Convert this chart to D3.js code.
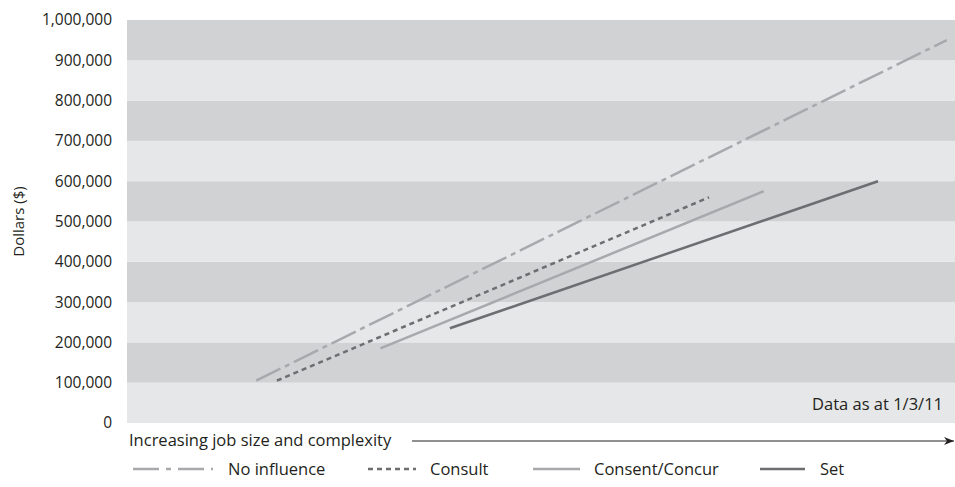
<!DOCTYPE html>
<html>
<head>
<meta charset="utf-8">
<script src="https://cdn.jsdelivr.net/npm/d3@7"></script>
<style>
  html, body { margin: 0; padding: 0; background: #fff; }
  svg { display: block; font-family: "Open Sans", "Noto Sans", sans-serif; }
</style>
</head>
<body>
<svg id="chart" width="955" height="487"></svg>
<script>
// Pay lines by decision-making influence; x is relative job size (0-100)
const seriesNames = ["No influence", "Consult", "Consent/Concur", "Set"];
const noInfluence = [[15.6, 105000], [99.0, 950000]];
const consult = [[18.1, 105000], [70.3, 560000]];
const consentConcur = [[30.6, 185000], [76.9, 575000]];
const setLine = [[39.0, 235000], [90.7, 600000]];
const yTicks = [0, 100000, 200000, 300000, 400000, 500000, 600000, 700000, 800000, 900000, 1000000];

const series = [
  { name: seriesNames[0], values: noInfluence, color: "#a7a9ac", dash: "27,5,5,5" },
  { name: seriesNames[1], values: consult, color: "#6d6e71", dash: "5,4" },
  { name: seriesNames[2], values: consentConcur, color: "#a7a9ac", dash: null },
  { name: seriesNames[3], values: setLine, color: "#6d6e71", dash: null }
];

const textColor = "#231f20";
const svg = d3.select("#chart");
const margin = { left: 127, right: 0, top: 20, bottom: 64 };
const W = 955, H = 487;

const x = d3.scaleLinear().domain([0, 100]).range([margin.left, W - margin.right]);
const y = d3.scaleLinear().domain([0, 1000000]).range([H - margin.bottom, margin.top]);

// alternating horizontal bands
const bands = d3.pairs(yTicks);
svg.append("g").selectAll("rect").data(bands).join("rect")
  .attr("x", x(0))
  .attr("width", x(100) - x(0))
  .attr("y", d => y(d[1]))
  .attr("height", d => y(d[0]) - y(d[1]))
  .attr("fill", (d, i) => i % 2 === 0 ? "#e6e7e8" : "#d1d2d4");

// y axis (labels only)
const yAxis = d3.axisLeft(y).tickValues(yTicks).tickSize(0).tickPadding(15)
  .tickFormat(d3.format(","));
const gy = svg.append("g").attr("transform", `translate(${x(0)},0)`).call(yAxis);
gy.select(".domain").remove();
gy.selectAll("text").attr("font-size", 15.5).attr("fill", textColor).attr("font-family", "Open Sans, sans-serif");

svg.append("text")
  .attr("transform", `translate(24,${(y(0) + y(1000000)) / 2}) rotate(-90)`)
  .attr("text-anchor", "middle")
  .attr("font-size", 15).attr("fill", textColor)
  .text("Dollars ($)");

// lines
const line = d3.line().x(d => x(d[0])).y(d => y(d[1]));
svg.append("g").selectAll("path").data(series).join("path")
  .attr("d", d => line(d.values))
  .attr("fill", "none")
  .attr("stroke", d => d.color)
  .attr("stroke-width", 2.5)
  .attr("stroke-dasharray", d => d.dash);

// note
svg.append("text")
  .attr("x", 943).attr("y", y(0) - 13)
  .attr("text-anchor", "end")
  .attr("font-size", 16.5).attr("fill", textColor)
  .text("Data as at 1/3/11");

// x axis caption with arrow
svg.append("defs").append("marker")
  .attr("id", "arrow").attr("viewBox", "0 0 10 10")
  .attr("refX", 10).attr("refY", 5)
  .attr("markerWidth", 10).attr("markerHeight", 10)
  .attr("markerUnits", "userSpaceOnUse")
  .attr("orient", "auto")
  .append("path").attr("d", "M0,1 L10,5 L0,9 L3,5 Z").attr("fill", textColor);

svg.append("text")
  .attr("x", 129).attr("y", 446)
  .attr("font-size", 16.5).attr("fill", textColor)
  .text("Increasing job size and complexity");

svg.append("line")
  .attr("x1", 412).attr("x2", 954).attr("y1", 441).attr("y2", 441)
  .attr("stroke", textColor).attr("stroke-width", 1)
  .attr("marker-end", "url(#arrow)");

// legend
const legendPos = [
  { lx: 133, len: 80, tx: 228 },
  { lx: 368, len: 48, tx: 430 },
  { lx: 533, len: 47, tx: 594 },
  { lx: 760, len: 45, tx: 820 }
];
const lg = svg.append("g").selectAll("g").data(series).join("g");
lg.append("line")
  .attr("x1", (d, i) => legendPos[i].lx)
  .attr("x2", (d, i) => legendPos[i].lx + legendPos[i].len)
  .attr("y1", 469).attr("y2", 469)
  .attr("stroke", d => d.color)
  .attr("stroke-width", 2.5)
  .attr("stroke-dasharray", d => d.dash === "27,5,5,5" ? "26,7,5,7" : d.dash);
lg.append("text")
  .attr("x", (d, i) => legendPos[i].tx)
  .attr("y", 475)
  .attr("font-size", 16.5).attr("fill", textColor)
  .text(d => d.name);
</script>
</body>
</html>
